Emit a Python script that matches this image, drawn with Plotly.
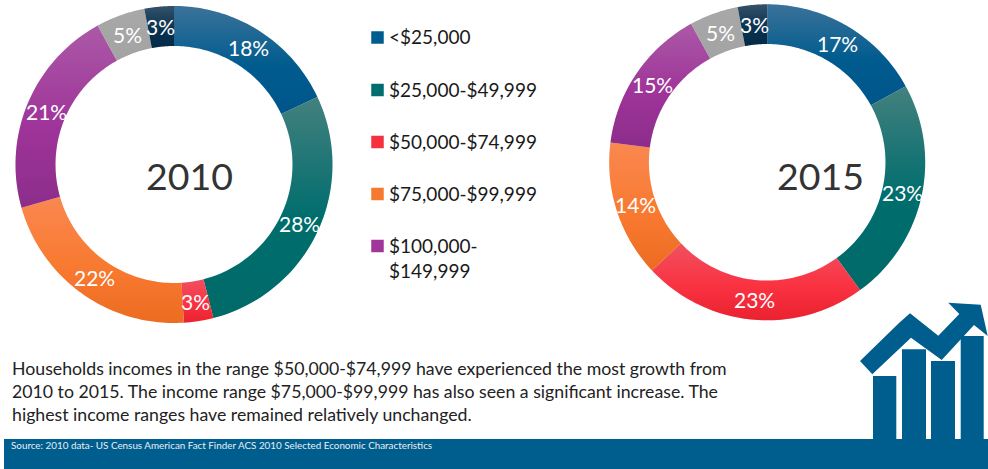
import numpy as np
import plotly.graph_objects as go

W, H = 988, 469
categories = ["<$25,000", "$25,000-$49,999", "$50,000-$74,999", "$75,000-$99,999",
              "$100,000-<br>$149,999", "$150,000-$199,999", "$200,000+"]
legend_labels = categories[:5]
values_2010 = [18, 28, 3, 21.6, 21.4, 5, 3]
values_2015 = [17, 23, 23, 14, 15, 5, 3]
base_colors = ["#005c8f", "#006e6e", "#f5303f", "#f57a30", "#a0359a", "#a6a6a6", "#0a3350"]
gradients = [
    ["#44769c", "#005c8f", "#00558a"],
    ["#4d8482", "#006e6e", "#006a68"],
    ["#ef5666", "#fb3342", "#e8202e"],
    ["#fb8a55", "#f97a30", "#ea6a20"],
    ["#ad5fa8", "#a0359a", "#8a2d88"],
    ["#a9a9a9", "#a6a6a6", "#a3a3a3"],
    ["#3c566e", "#0a3350", "#042a45"],
]
rings = [
    dict(year="2010", values=values_2010, cx=174.0, cy=164.5, ro=158.5, ri=118.5, tx=189.5, ty=175),
    dict(year="2015", values=values_2015, cx=767.2, cy=162.3, ro=158.0, ri=118.3, tx=820, ty=175),
]
BLUE = "#005e8e"
paragraph = [
    "Households incomes in the range $50,000-$74,999 have experienced the most growth from",
    "2010 to 2015. The income range $75,000-$99,999 has also seen a significant increase. The",
    "highest income ranges have remained relatively unchanged.",
]
source = "Source: 2010 data- US Census American Fact Finder ACS 2010 Selected Economic Characteristics"
FONT = "Lato, Carlito, Calibri, sans-serif"

fig = go.Figure()
annotations = []


def rgba(hex_color, a):
    h = hex_color.lstrip("#")
    return f"rgba({int(h[:2],16)},{int(h[2:4],16)},{int(h[4:],16)},{a})"


for ring in rings:
    vals = np.array(ring["values"], float)
    edges = np.concatenate([[0], np.cumsum(vals)]) / vals.sum() * 2 * np.pi
    for i, (a0, a1) in enumerate(zip(edges[:-1], edges[1:])):
        t = np.linspace(a0, a1, 60)
        xs = np.concatenate([ring["cx"] + ring["ro"] * np.sin(t), ring["cx"] + ring["ri"] * np.sin(t[::-1])])
        ys = np.concatenate([ring["cy"] - ring["ro"] * np.cos(t), ring["cy"] - ring["ri"] * np.cos(t[::-1])])
        g = gradients[i]
        fig.add_trace(go.Scatter(
            x=np.append(xs, xs[0]), y=np.append(ys, ys[0]), mode="none", fill="toself",
            fillgradient=dict(type="vertical", colorscale=[[0, g[2]], [0.45, g[1]], [1, g[0]]]),
            hoverinfo="skip", showlegend=False))
        mid = (a0 + a1) / 2
        rm = (ring["ro"] + ring["ri"]) / 2
        annotations.append(dict(x=ring["cx"] + rm * np.sin(mid), y=ring["cy"] - rm * np.cos(mid),
                                text=f"{round(vals[i])}%", showarrow=False,
                                font=dict(family=FONT, size=21, color="white")))
    fig.add_trace(go.Pie(
        labels=categories, values=ring["values"], sort=False, direction="clockwise", rotation=0,
        hole=ring["ri"] / ring["ro"], textinfo="none", showlegend=False, title=dict(text=""),
        marker=dict(colors=[rgba(c, 0.12) for c in base_colors], line=dict(width=0)),
        domain=dict(x=[(ring["cx"] - ring["ro"]) / W, (ring["cx"] + ring["ro"]) / W],
                    y=[1 - (ring["cy"] + ring["ro"]) / H, 1 - (ring["cy"] - ring["ro"]) / H]),
        name=ring["year"]))
    annotations.append(dict(x=ring["tx"], y=ring["ty"], text=ring["year"], showarrow=False,
                            font=dict(family=FONT, size=37.5, color="#333333")))

# Legend
legend_y = [37.5, 90, 142, 194, 246]
fig.add_trace(go.Scatter(
    x=[377.5] * 5, y=legend_y, mode="markers", showlegend=False, hoverinfo="skip",
    marker=dict(symbol="square", size=12.5, color=base_colors[:5], line=dict(width=0))))
for lab, y in zip(legend_labels, legend_y):
    annotations.append(dict(x=386.5, y=y - 1 if "<br>" not in lab else y + 12, text=lab, showarrow=False,
                            xanchor="left", align="left",
                            font=dict(family=FONT, size=19, color="#1a1a1a")))

# Paragraph and source
for line, y in zip(paragraph, [368.5, 391.5, 414.5]):
    annotations.append(dict(x=10, y=y, text=line, showarrow=False, xanchor="left",
                            font=dict(family=FONT, size=17.72, color="#222222")))
annotations.append(dict(x=9, y=445, text=source, showarrow=False, xanchor="left",
                        font=dict(family=FONT, size=9.85, color="#e8eef2")))

# Decoration: footer band and growth icon
shapes = [dict(type="rect", x0=4, x1=988, y0=439, y1=469, fillcolor=BLUE, line=dict(width=0), layer="below")]
for x0, x1, top in [(873, 896.3, 376), (902, 926, 349.3), (931, 955, 361), (960.7, 983.7, 336)]:
    shapes.append(dict(type="rect", x0=x0, x1=x1, y0=top, y1=440, fillcolor=BLUE, line=dict(width=0), layer="below"))
arrow = [(60, 213), (178, 98), (210, 70), (295, 137), (358, 72), (325, 38), (422, 44), (443, 138),
         (402, 105), (305, 210), (213, 143), (97, 253)]
path = "M " + " L ".join(f"{840 + x / 3:.1f},{290 + y / 3:.1f}" for x, y in arrow) + " Z"
shapes.append(dict(type="path", path=path, fillcolor=BLUE, line=dict(width=0), layer="below"))

fig.update_layout(
    width=W, height=H, margin=dict(l=0, r=0, t=0, b=0), paper_bgcolor="white", plot_bgcolor="white",
    xaxis=dict(range=[0, W], visible=False, fixedrange=True),
    yaxis=dict(range=[H, 0], visible=False, fixedrange=True),
    shapes=shapes, annotations=annotations, font=dict(family=FONT), showlegend=False,
)
fig.write_html("out.html", config={"displayModeBar": False},
               post_script="document.body.style.margin='0';")
